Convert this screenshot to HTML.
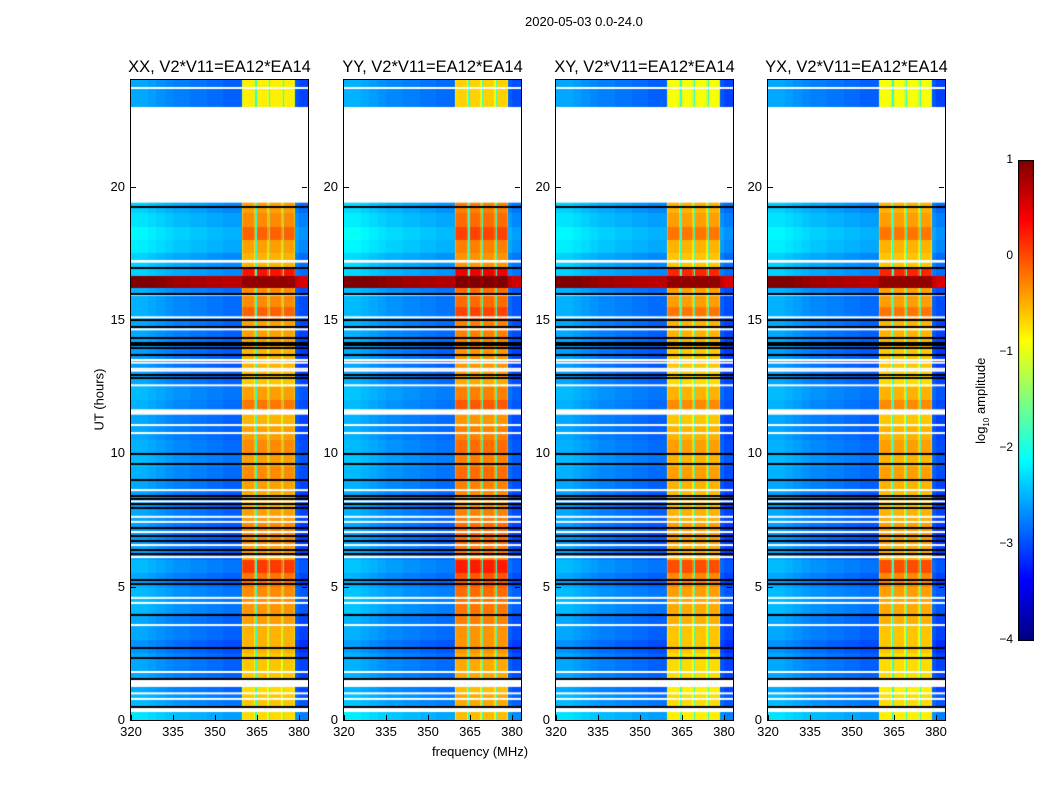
<!DOCTYPE html>
<html><head><meta charset="utf-8">
<style>
body{margin:0;background:#fff;width:1050px;height:800px;overflow:hidden;font-family:"Liberation Sans","DejaVu Sans",sans-serif;}
#root{position:relative;width:1050px;height:800px;}
.t{position:absolute;white-space:nowrap;color:#000;}
canvas{position:absolute;}
</style></head>
<body>
<div id="root">
<div class="t" style="left:525px;top:14px;font-size:13px;">2020-05-03 0.0-24.0</div>
<div class="t" style="left:432px;top:744px;font-size:13px;">frequency (MHz)</div>
<div class="t" style="left:64px;top:392px;font-size:13px;transform:rotate(-90deg);transform-origin:center;width:70px;text-align:center;">UT (hours)</div>
<div class="t" style="left:932px;top:392px;font-size:13px;transform:rotate(-90deg);width:100px;text-align:center;">log<sub style="font-size:8px">10</sub> amplitude</div>
<canvas id="cb" width="16" height="481" style="left:1018px;top:160px;"></canvas>
</div>
<script>
// ---- data ----
const panelTitles = ["XX, V2*V11=EA12*EA14","YY, V2*V11=EA12*EA14","XY, V2*V11=EA12*EA14","YX, V2*V11=EA12*EA14"];
const panelBandOffset = [0, 0.15, -0.1, -0.1];
const panelBgOffset = [0, 0.05, 0, 0];
// per 0.5 h, hour 0 -> 24 ; null = flagged
const rowBand = [-0.7,-0.6,-0.7,-0.6,-0.6,-0.5,-0.5,-0.4,-0.35,-0.3,-0.2,0.1,-0.4,-0.3,-0.3,-0.4,-0.5,-0.4,-0.3,-0.4,-0.3,-0.4,-0.5,-0.2,-0.4,-0.6,-0.5,-0.5,-0.4,-0.4,-0.1,-0.3,0.9,0.3,-0.5,-0.4,-0.1,-0.3,-0.4,null,null,null,null,null,null,null,-0.8,-0.8];
const rowBg = [-2.5,-2.7,-2.8,-2.8,-2.8,-2.9,-2.8,-2.8,-2.7,-2.7,-2.8,-2.7,-2.8,-2.85,-2.85,-2.8,-2.85,-2.8,-2.75,-2.7,-2.75,-2.8,-2.8,-2.75,-2.7,-2.8,-2.85,-2.85,-2.8,-2.8,-2.75,-2.75,0.8,-2.6,-2.6,-2.45,-2.4,-2.5,-2.6,null,null,null,null,null,null,null,-2.8,-2.8];
// per 3 MHz bin from 320 MHz
const colBg = [0.25,0.25,0.2,0.15,0.1,0.05,0.05,0,0,-0.05,-0.05,-0.1,-0.1,-0.1,-0.15,-0.15,-0.15,-0.15,-0.15,-0.15,-0.25,-0.25];
const flagHours = [[19.4,22.95],[11.45,11.65],[17.15,17.25],[1.24,1.5],[0.3,0.48]];
const whiteLines = [23.7,15.95,15.1,14.65,13.5,13.4,13.17,13.1,12.55,11.06,10.76,8.62,8.2,7.62,7.43,7.05,6.56,6.11,4.58,4.39,3.56,1.8,1.0,0.79];
const blackLines = [19.28,17.0,16.0,15.05,14.77,14.37,14.17,14.1,14.0,13.72,12.97,12.86,10.0,9.63,9.03,8.43,8.31,8.13,7.99,7.24,6.94,6.75,6.41,6.26,5.29,5.14,3.97,2.74,2.36,1.57,0.53];
const bandEdges = [359.6,364.4,369.2,374.2,378.6];
const xTicks = [320,335,350,365,380];
const yTicks = [0,5,10,15,20];
const cbTicks = [-4,-3,-2,-1,0,1];
// ---- layout ----
const panelX = [131,344,556,768], PW=177, PT=80, PH=640;
const F0=320, F1=383.2, VMIN=-4, VMAX=1;
function jet(t){t=Math.max(0,Math.min(1,t));
 const r=Math.max(0,Math.min(1,1.5-Math.abs(4*t-3))),g=Math.max(0,Math.min(1,1.5-Math.abs(4*t-2))),b=Math.max(0,Math.min(1,1.5-Math.abs(4*t-1)));
 return [r*255|0,g*255|0,b*255|0];}
const root=document.getElementById('root');
function xs(f){return (f-F0)/(F1-F0)*PW;}
function ys(h){return PH-h/24*PH;}
panelTitles.forEach((title,p)=>{
 const c=document.createElement('canvas');c.width=PW;c.height=PH;
 c.style.left=panelX[p]+'px';c.style.top=PT+'px';
 
 
 root.appendChild(c);
 const ctx=c.getContext('2d');const img=ctx.createImageData(PW,PH);
 for(let y=0;y<PH;y++){
  const h=(PH-y-0.5)/PH*24;
  let ri=Math.min(47,Math.floor(h*2));
  if(h>=16.2&&h<16.65) ri=32; else if(ri===32) ri=(h<16.2?31:33);
  const bl=rowBand[ri], bg=rowBg[ri];
  for(let x=0;x<PW;x++){
   const f=F0+(x+0.5)/PW*(F1-F0); let v; const i=(y*PW+x)*4;
   if(bl===null){img.data[i]=img.data[i+1]=img.data[i+2]=255;img.data[i+3]=255;continue;}
   const cb=colBg[Math.min(colBg.length-1,Math.floor((f-F0)/3))];
   if(f>=bandEdges[0]&&f<bandEdges[4]){
    let seg=-1;for(let k=0;k<4;k++){if(f>=bandEdges[k]&&f<bandEdges[k+1])seg=k;}
    const a=bandEdges[seg],b=bandEdges[seg+1];
    const d=Math.min(f-a,b-f);
    if(seg>0&&f-a<0.5) v=-1.9;
    else v=bl+panelBandOffset[p]-(d<0.5?0.25:0);
    if(bg>0) v=Math.max(v,bg+0.1);
   } else v=bg+cb+panelBgOffset[p];
   const col=jet((v-VMIN)/(VMAX-VMIN));
   img.data[i]=col[0];img.data[i+1]=col[1];img.data[i+2]=col[2];img.data[i+3]=255;
  }}
 ctx.putImageData(img,0,0);
 ctx.fillStyle='#fff';
 flagHours.forEach(r=>{ctx.fillRect(0,ys(r[1]),PW,ys(r[0])-ys(r[1]));});
 whiteLines.forEach(h=>{ctx.fillRect(0,ys(h)-1,PW,2);});
 ctx.fillStyle='#000';
 blackLines.forEach(h=>{ctx.fillRect(0,Math.round(ys(h)),PW,2);});
 const fr=document.createElement('div');
 
 
 fr.style.cssText=`position:absolute;left:${panelX[p]-1}px;top:${PT-1}px;width:${PW}px;height:${PH}px;border:1px solid #000;`;
 root.appendChild(fr);
 const t=document.createElement('div');t.className='t';t.textContent=title;
 
 
 t.style.cssText=`left:${panelX[p]+PW/2}px;top:58px;font-size:16.5px;transform:translateX(-50%);`;
 root.appendChild(t);
 xTicks.forEach(f=>{
  const l=document.createElement('div');l.className='t';l.textContent=f;
  
  
  l.style.cssText=`left:${panelX[p]+xs(f)}px;top:724px;font-size:13px;transform:translateX(-50%);`;
  root.appendChild(l);
  const m=document.createElement('div');
  
  
  m.style.cssText=`position:absolute;left:${panelX[p]+xs(f)}px;top:${PT+PH-5}px;width:1px;height:5px;background:#000;`;
  root.appendChild(m);
 });
 yTicks.forEach(h=>{
  const l=document.createElement('div');l.className='t';l.textContent=h;
  
  
  l.style.cssText=`left:${panelX[p]-6}px;top:${PT+ys(h)-8}px;font-size:13px;transform:translateX(-100%);`;
  root.appendChild(l);
  ['0','1'].forEach(s=>{const m=document.createElement('div');
  
  
  m.style.cssText=`position:absolute;left:${s==='0'?panelX[p]:panelX[p]+PW-6}px;top:${PT+ys(h)}px;width:5px;height:1px;background:#000;`;
  root.appendChild(m);});
 });
});
const cbc=document.getElementById('cb').getContext('2d');
for(let y=0;y<481;y++){const c=jet(1-y/480);cbc.fillStyle=`rgb(${c[0]},${c[1]},${c[2]})`;cbc.fillRect(0,y,16,1);}
cbc.strokeStyle='#000';cbc.strokeRect(0.5,0.5,15,480);
cbTicks.forEach(v=>{
 const y=160+(VMAX-v)/(VMAX-VMIN)*480;
 const l=document.createElement('div');l.className='t';l.textContent=(v<0?'\u2212'+(-v):v);
 
 
 l.style.cssText=`left:1013px;top:${y-8}px;font-size:12px;transform:translateX(-100%);`;
 root.appendChild(l);
});
</script>
</body></html>
